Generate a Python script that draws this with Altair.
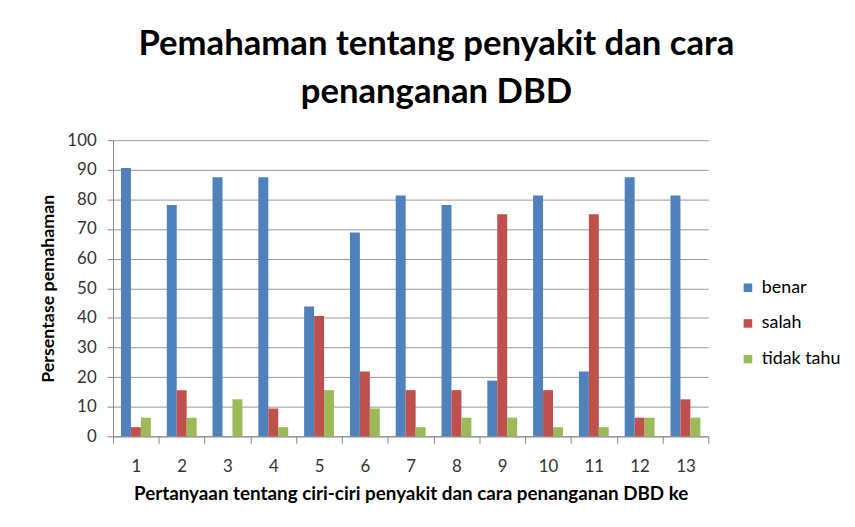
import altair as alt
import pandas as pd

questions = [str(i) for i in range(1, 14)]
benar = [90.6, 78.1, 87.5, 87.5, 43.8, 68.8, 81.3, 78.1, 18.8, 81.3, 21.9, 87.5, 81.3]
salah = [3.1, 15.6, 0.0, 9.4, 40.6, 21.9, 15.6, 15.6, 75.0, 15.6, 75.0, 6.3, 12.5]
tidak_tahu = [6.3, 6.3, 12.5, 3.1, 15.6, 9.4, 3.1, 6.3, 6.3, 3.1, 3.1, 6.3, 6.3]
series = ["benar", "salah", "tidak tahu"]
colors = ["#4F81BD", "#C0504D", "#9BBB59"]

rows = []
for name, vals in zip(series, [benar, salah, tidak_tahu]):
    for q, v in zip(questions, vals):
        rows.append({"q": q, "seri": name, "nilai": v})
df = pd.DataFrame(rows)

FONT = "Lato"
W, H = 601, 299

chart = alt.Chart(df).mark_bar().encode(
    x=alt.X("q:N", sort=questions,
            scale=alt.Scale(paddingInner=0, paddingOuter=0),
            axis=alt.Axis(title="Pertanyaan tentang ciri-ciri penyakit dan cara penanganan DBD ke",
                          labelAngle=0, tickBand="extent", titleFontSize=19,
                          tickSize=7, labelPadding=15, titlePadding=11)),
    xOffset=alt.XOffset("seri:N", sort=series,
                        scale=alt.Scale(paddingInner=0, paddingOuter=0.8)),
    y=alt.Y("nilai:Q", scale=alt.Scale(domain=[0, 100]),
            axis=alt.Axis(title="Persentase pemahaman", values=list(range(0, 101, 10)),
                          tickSize=6, labelPadding=11, titlePadding=9)),
    color=alt.Color("seri:N", sort=series,
                    scale=alt.Scale(domain=series, range=colors),
                    legend=alt.Legend(title=None, orient="none", legendX=632, legendY=140,
                                      symbolType="square", symbolSize=75,
                                      labelFontSize=18, rowPadding=18, labelOffset=5,
                                      labelFont=FONT, labelColor="#000")),
).properties(
    width=W, height=H,
    background="white",
    title=alt.TitleParams(["Pemahaman tentang penyakit dan cara", "penanganan DBD"],
                          font=FONT, fontSize=35, fontWeight="bold", color="#000",
                          anchor="middle", dx=26, lineHeight=48, offset=22),
    autosize=alt.AutoSizeParams(type="none"),
    padding={"left": 106, "top": 131, "right": 140, "bottom": 80},
).configure_axis(
    labelFont=FONT, labelFontSize=17, labelColor="#333",
    titleFont=FONT, titleFontSize=18, titleFontWeight="bold", titleColor="#000",
    domainColor="#888", tickColor="#888", gridColor="#999",
).configure_axisX(grid=False).configure_view(stroke=None)

chart.save("out.html", embed_options={"renderer": "svg", "actions": False})
